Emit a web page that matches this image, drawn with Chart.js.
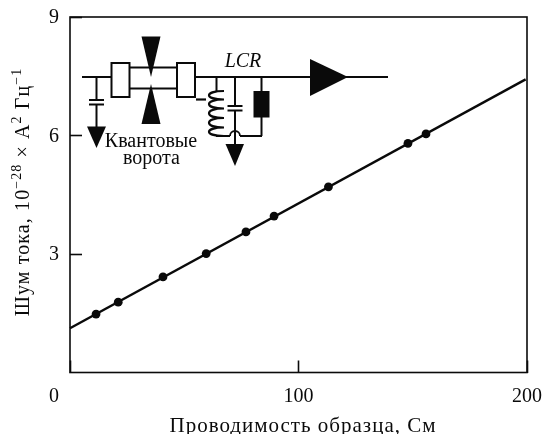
<!DOCTYPE html>
<html lang="ru">
<head>
  <meta charset="UTF-8">
  <style>
    body { margin: 0; background: #fff; }
    canvas { display: block; }
  </style>
</head>
<body>
  <canvas id="myChart" width="544" height="434"></canvas>
  <script src="https://cdn.jsdelivr.net/npm/chart.js"></script>
  <script>
    // values
    const pointX = [11.4, 21.1, 40.7, 59.6, 77.0, 89.3, 113.1, 147.9, 155.8];
    const pointY = [1.48, 1.78, 2.42, 3.01, 3.56, 3.96, 4.70, 5.80, 6.04];
    const fitX = [0, 199.4];
    const fitY = [1.12, 7.42];
    const xTicks = [0, 100, 200];
    const yTicks = [3, 6, 9];

    const xTitle = 'Проводимость образца, См';
    const yTitleRuns = [['Шум тока, 10', 0], ['−28', 1], [' × A', 0], ['2', 1], [' Гц', 0], ['−1', 1]];

    const INK = '#0a0a0a';
    const SERIF = '"Liberation Serif", serif';

    function toXY(xs, ys) {
      return xs.map((x, i) => ({ x: x, y: ys[i] }));
    }

    // frame round the plot, the lone 0 and both axis titles
    const framePlugin = {
      id: 'frame',
      afterDraw(chart) {
        const c = chart.ctx, a = chart.chartArea;
        c.save();
        c.strokeStyle = INK;
        c.lineWidth = 1.6;
        c.strokeRect(a.left, a.top, a.right - a.left, a.bottom - a.top);
        c.fillStyle = INK;
        c.font = '20px ' + SERIF;
        c.textAlign = 'center';
        c.textBaseline = 'alphabetic';
        c.fillText('0', 54, 402);

        // x title is spaced out in the original
        c.font = '21px ' + SERIF;
        c.letterSpacing = '1px';
        c.fillText(xTitle, 303, 431.5);

        // y title
        c.letterSpacing = '1.1px';
        const widths = yTitleRuns.map(r => {
          c.font = (r[1] ? 14 : 20) + 'px ' + SERIF;
          return c.measureText(r[0]).width;
        });
        c.translate(29, 192);
        c.rotate(-Math.PI / 2);
        let tx = -widths.reduce((s, w) => s + w, 0) / 2;
        c.textAlign = 'left';
        yTitleRuns.forEach((r, i) => {
          c.font = (r[1] ? 14 : 20) + 'px ' + SERIF;
          c.fillText(r[0], tx, r[1] ? -8 : 0);
          tx += widths[i];
        });
        c.restore();
      }
    };

    // circuit inset, in canvas pixels
    const insetPlugin = {
      id: 'inset',
      afterDraw(chart) {
        const c = chart.ctx;
        const seg = (x1, y1, x2, y2, w) => {
          c.lineWidth = w || 2;
          c.beginPath(); c.moveTo(x1, y1); c.lineTo(x2, y2); c.stroke();
        };
        const tri = (x1, y1, x2, y2, x3, y3) => {
          c.beginPath(); c.moveTo(x1, y1); c.lineTo(x2, y2); c.lineTo(x3, y3); c.closePath(); c.fill();
        };
        c.save();
        c.strokeStyle = INK;
        c.fillStyle = INK;

        // main line and gate
        seg(82, 77, 111, 77);
        seg(195, 77, 388, 77);
        c.lineWidth = 2;
        c.strokeRect(111.5, 63, 18, 34);
        c.strokeRect(177, 63, 18, 34);
        seg(129.5, 67.5, 177, 67.5);
        seg(129.5, 88.5, 177, 88.5);
        tri(141.5, 36.5, 160.5, 36.5, 151, 77);
        tri(141.5, 124, 160.5, 124, 151, 84);
        tri(310, 59, 310, 96, 348, 77);

        // left capacitor to ground
        seg(96.5, 77, 96.5, 100);
        seg(89, 100, 104, 100);
        seg(89, 104.5, 104, 104.5);
        seg(96.5, 104.5, 96.5, 127);
        tri(87, 126.5, 106, 126.5, 96.5, 148);

        // coil
        seg(216.5, 77, 216.5, 91);
        seg(196, 99.5, 206, 99.5, 2.2);
        const coilY = [91, 99.5, 108.5, 118, 127.5, 136];
        c.lineWidth = 2.2;
        c.beginPath();
        coilY.slice(0, -1).forEach((y, i) => {
          const y2 = coilY[i + 1];
          c.moveTo(224, y2);
          c.bezierCurveTo(204, y2, 204, y, 224, y);
        });
        c.stroke();
        seg(216, 136, 230, 136);
        seg(240, 136, 262, 136);
        c.beginPath(); c.lineWidth = 1.8; c.arc(235, 136, 5, Math.PI, 0); c.stroke();

        // LCR capacitor
        seg(235, 77, 235, 106);
        seg(227.5, 106, 242.5, 106);
        seg(227.5, 110.5, 242.5, 110.5);
        seg(235, 110.5, 235, 145);
        tri(225.5, 144, 244, 144, 235, 166);

        // resistor
        seg(261.5, 77, 261.5, 136);
        c.fillRect(253.5, 91, 16, 26.5);

        // labels
        c.font = 'italic 20px ' + SERIF;
        c.textAlign = 'center';
        c.fillText('LCR', 243, 67);
        c.font = '20px ' + SERIF;
        c.fillText('Квантовые', 151, 146.5);
        c.fillText('ворота', 151.5, 163.5);
        c.restore();
      }
    };

    new Chart(document.getElementById('myChart').getContext('2d'), {
      type: 'scatter',
      data: {
        datasets: [
          {
            data: toXY(fitX, fitY),
            showLine: true,
            borderColor: INK,
            borderWidth: 2.4,
            pointRadius: 0,
            clip: false
          },
          {
            data: toXY(pointX, pointY),
            backgroundColor: INK,
            borderColor: INK,
            pointRadius: 4.4,
            pointBorderWidth: 0
          }
        ]
      },
      options: {
        responsive: false,
        animation: false,
        layout: { padding: { top: 17, right: 17, left: 0, bottom: 0 } },
        plugins: { legend: { display: false }, tooltip: { enabled: false } },
        scales: {
          x: {
            type: 'linear',
            min: 0,
            max: 200,
            afterFit(scale) {
              scale.height = 61.5;
              scale.paddingLeft = 0;
              scale.paddingRight = 0;
            },
            afterBuildTicks(scale) { scale.ticks = xTicks.map(v => ({ value: v })); },
            border: { display: false },
            grid: { drawOnChartArea: false, tickLength: -12, color: INK, tickWidth: 1.6 },
            ticks: {
              color: INK,
              maxRotation: 0,
              padding: 24,
              font: { family: SERIF, size: 20 },
              callback: v => (v === 0 ? '' : v)
            }
          },
          y: {
            type: 'linear',
            min: 0,
            max: 9,
            afterFit(scale) {
              scale.width = 70;
              scale.paddingTop = 0;
              scale.paddingBottom = 0;
            },
            afterBuildTicks(scale) { scale.ticks = yTicks.map(v => ({ value: v })); },
            border: { display: false },
            grid: { drawOnChartArea: false, tickLength: -12, color: INK, tickWidth: 1.6 },
            ticks: {
              color: INK,
              padding: 23,
              labelOffset: 1,
              font: { family: SERIF, size: 20 }
            }
          }
        }
      },
      plugins: [framePlugin, insetPlugin]
    });
  </script>
</body>
</html>
